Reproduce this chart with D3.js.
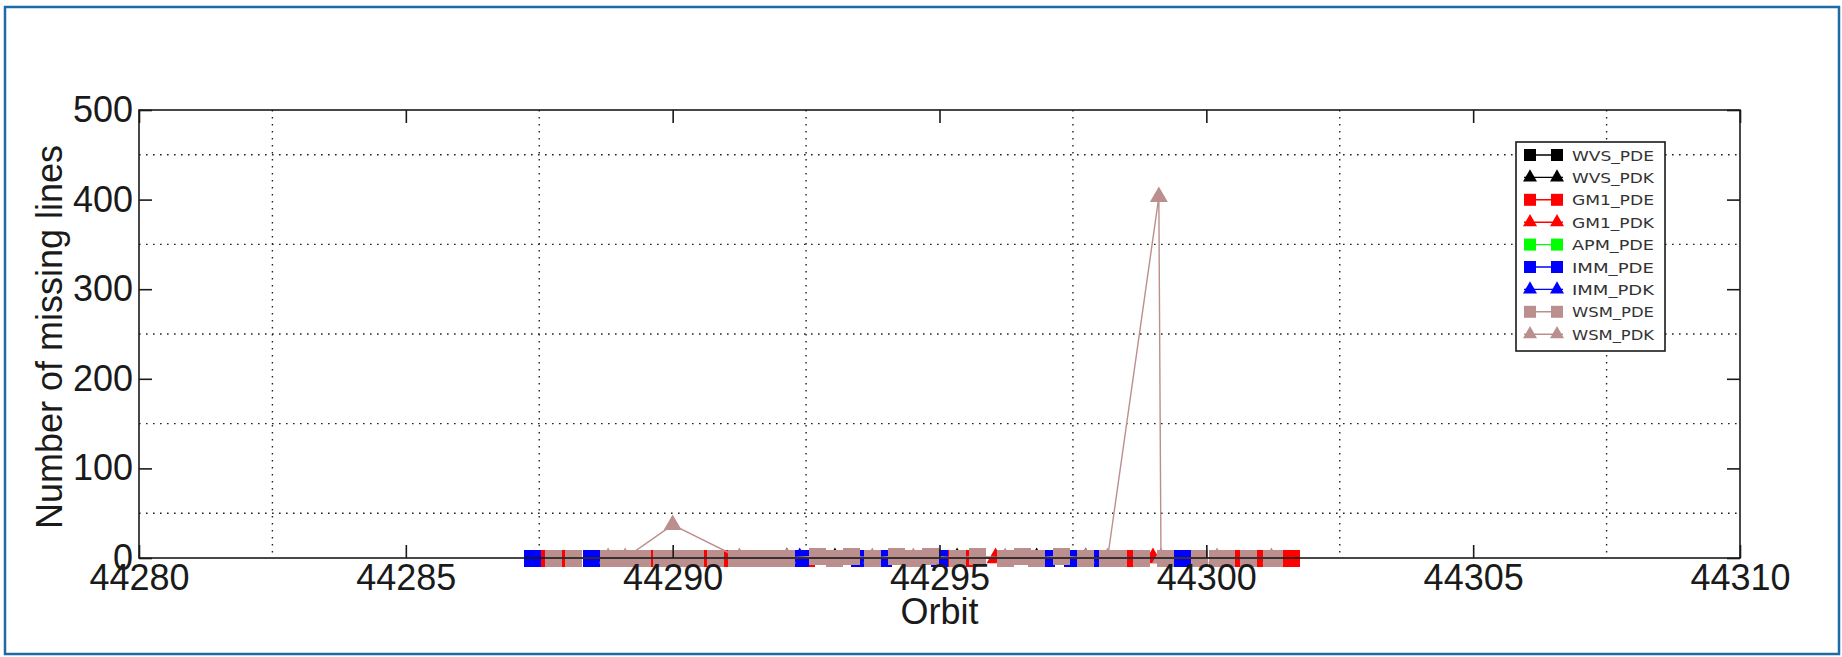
<!DOCTYPE html>
<html><head><meta charset="utf-8">
<script src="https://cdn.jsdelivr.net/npm/d3@7"></script>
<style>body{margin:0;background:#fff}svg{display:block}</style>
</head><body>
<svg id="chart" width="1842" height="657"></svg>
<script>
// ---------- data ----------
const xDomain = [44280, 44310];
const yDomain = [0, 500];
const xTicks = [44280, 44285, 44290, 44295, 44300, 44305, 44310];
const yTicks = [0, 100, 200, 300, 400, 500];
const xGrid = [44282.5, 44287.5, 44292.5, 44297.5, 44302.5, 44307.5];
const yGrid = [50, 150, 250, 350, 450];
const xLabel = "Orbit";
const yLabel = "Number of missing lines";

const seriesNames   = ["WVS_PDE", "WVS_PDK", "GM1_PDE", "GM1_PDK", "APM_PDE", "IMM_PDE", "IMM_PDK", "WSM_PDE", "WSM_PDK"];
const seriesColors  = ["#000000", "#000000", "#ff0000", "#ff0000", "#00ff00", "#0000ff", "#0000ff", "#bc8f8f", "#bc8f8f"];
const seriesMarkers = ["square", "triangle", "square", "triangle", "square", "square", "triangle", "square", "triangle"];

const wvsPdeOrbit = [44290.43, 44298.79];
const wvsPdeValue = [0, 0];
const wvsPdkOrbit = [44292.14, 44293.04, 44295.33, 44296.82, 44297.74];
const wvsPdkValue = [0, 0, 0, 0, 0];
const gm1PdeOrbit = [44287.49, 44287.95, 44289.61, 44290.62, 44290.99, 44292.50, 44293.58, 44295.25, 44295.55, 44298.57, 44300.58, 44301.00, 44301.59];
const gm1PdeValue = [0, 0, 0, 0, 0, 0, 0, 0, 0, 0, 0, 0, 0];
const gm1PdkOrbit = [44296.05, 44299.00];
const gm1PdkValue = [0, 0];
const apmPdeOrbit = [44289.43, 44300.20];
const apmPdeValue = [0, 0];
const immPdeOrbit = [44287.37, 44288.47, 44292.40, 44293.50, 44293.95, 44295.00, 44297.00, 44297.50, 44297.97, 44299.55];
const immPdeValue = [0, 0, 0, 0, 0, 0, 0, 0, 0, 0];
const immPdkOrbit = [44292.38, 44294.98];
const immPdkValue = [0, 0];
const wsmPdeOrbit = [44287.77, 44288.14, 44288.79, 44289.11, 44289.43, 44289.79, 44290.11, 44290.43, 44290.81, 44291.19,
                     44291.51, 44291.82, 44292.14, 44292.72, 44293.04, 44293.36, 44293.74, 44294.19, 44294.51, 44294.83,
                     44295.33, 44295.72, 44296.23, 44296.55, 44296.82, 44297.29, 44297.74, 44298.15, 44298.35, 44298.79,
                     44299.24, 44299.88, 44300.20, 44300.38, 44300.79, 44301.22, 44301.28];
const wsmPdeValue = [0, 0, 0, 0, 0, 0, 0, 0, 0, 0,
                     0, 0, 0, 2, 0, 2, 0, 2, 0, 2,
                     0, 2, 0, 2, 0, 2, 0, 0, 0, 0,
                     0, 0, 0, 0, 0, 0, 0];
const wsmPdkOrbit = [44288.79, 44289.11, 44290.00, 44291.25, 44292.14, 44293.74, 44294.51, 44296.23, 44297.74, 44298.15, 44299.11, 44299.15, 44300.20, 44301.22];
const wsmPdkValue = [0, 0, 37, 0, 0, 0, 0, 0, 0, 0, 403, 0, 0, 0];

const seriesOrbits = [wvsPdeOrbit, wvsPdkOrbit, gm1PdeOrbit, gm1PdkOrbit, apmPdeOrbit, immPdeOrbit, immPdkOrbit, wsmPdeOrbit, wsmPdkOrbit];
const seriesValues = [wvsPdeValue, wvsPdkValue, gm1PdeValue, gm1PdkValue, apmPdeValue, immPdeValue, immPdkValue, wsmPdeValue, wsmPdkValue];

// ---------- layout ----------
const L = 139, R = 1740, T = 110, B = 558;
const FONT = "'Liberation Sans', Arial, sans-serif";
const svg = d3.select("#chart");

svg.append("rect").attr("x", 5).attr("y", 7).attr("width", 1834).attr("height", 647)
  .attr("fill", "#fff").attr("stroke", "#1c6aa6").attr("stroke-width", 2.5);

const x = d3.scaleLinear().domain(xDomain).range([L, R]);
const y = d3.scaleLinear().domain(yDomain).range([B, T]);

// grid
const grid = svg.append("g").attr("stroke", "#222").attr("stroke-width", 1.4)
  .attr("stroke-dasharray", "1.6,5.4").attr("fill", "none");
grid.selectAll("line.v").data(xGrid).join("line").attr("class", "v")
  .attr("x1", d => x(d)).attr("x2", d => x(d)).attr("y1", T).attr("y2", B);
grid.selectAll("line.h").data(yGrid).join("line").attr("class", "h")
  .attr("x1", L).attr("x2", R).attr("y1", d => y(d)).attr("y2", d => y(d));

// data
const sqSize = 17 * 17;
const triSize = Math.sqrt(3) / 4 * 18 * 18;
const data = svg.append("g");
seriesNames.forEach((name, i) => {
  const pts = seriesOrbits[i].map((o, k) => [o, seriesValues[i][k]]);
  const g = data.append("g");
  g.append("path").datum(pts)
    .attr("fill", "none").attr("stroke", seriesColors[i]).attr("stroke-width", 1.4)
    .attr("d", d3.line().x(d => x(d[0])).y(d => y(d[1])));
  const sym = seriesMarkers[i] === "square" ? d3.symbol(d3.symbolSquare, sqSize) : d3.symbol(d3.symbolTriangle, triSize);
  g.selectAll("path.m").data(pts).join("path").attr("class", "m")
    .attr("transform", d => `translate(${x(d[0])},${y(d[1])})`)
    .attr("d", sym)
    .attr("fill", seriesColors[i])
    .attr("shape-rendering", seriesMarkers[i] === "square" ? "crispEdges" : null);
});

// axes box and ticks
svg.append("rect").attr("x", L).attr("y", T).attr("width", R - L).attr("height", B - T)
  .attr("fill", "none").attr("stroke", "#1a1a1a").attr("stroke-width", 1.6);

const tick = 13;
const ax = svg.append("g").attr("transform", `translate(0,${B})`)
  .call(d3.axisBottom(x).tickValues(xTicks).tickFormat(d3.format("d")).tickSizeInner(-tick).tickSizeOuter(0).tickPadding(6));
const ay = svg.append("g").attr("transform", `translate(${L},0)`)
  .call(d3.axisLeft(y).tickValues(yTicks).tickFormat(d3.format("d")).tickSizeInner(-tick).tickSizeOuter(0).tickPadding(6));
const at = svg.append("g").attr("transform", `translate(0,${T})`)
  .call(d3.axisTop(x).tickValues(xTicks).tickFormat("").tickSizeInner(-tick).tickSizeOuter(0));
const ar = svg.append("g").attr("transform", `translate(${R},0)`)
  .call(d3.axisRight(y).tickValues(yTicks).tickFormat("").tickSizeInner(-tick).tickSizeOuter(0));
[ax, ay, at, ar].forEach(a => {
  a.select(".domain").remove();
  a.selectAll(".tick line").attr("stroke", "#1a1a1a").attr("stroke-width", 1.6);
  a.selectAll(".tick text").attr("fill", "#1a1a1a").style("font-family", FONT).style("font-size", "36px");
});

svg.append("text").attr("x", (L + R) / 2).attr("y", 624).attr("text-anchor", "middle")
  .style("font-family", FONT).style("font-size", "36px").attr("fill", "#1a1a1a").text(xLabel);
svg.append("text").attr("transform", `translate(62,${(T + B) / 2 + 3}) rotate(-90)`).attr("text-anchor", "middle")
  .style("font-family", FONT).style("font-size", "36px").attr("fill", "#1a1a1a").text(yLabel);

// legend
const lg = svg.append("g");
lg.append("rect").attr("x", 1516).attr("y", 142).attr("width", 149).attr("height", 209)
  .attr("fill", "#fff").attr("stroke", "#1a1a1a").attr("stroke-width", 1.6);
seriesNames.forEach((name, i) => {
  const cy = 155 + i * 22.4;
  const g = lg.append("g");
  g.append("line").attr("x1", 1524).attr("x2", 1563).attr("y1", cy).attr("y2", cy)
    .attr("stroke", seriesColors[i]).attr("stroke-width", 1.4);
  const sym = seriesMarkers[i] === "square" ? d3.symbol(d3.symbolSquare, 12 * 12) : d3.symbol(d3.symbolTriangle, Math.sqrt(3) / 4 * 14 * 14);
  [1530, 1557].forEach(mx => g.append("path").attr("transform", `translate(${mx},${cy})`).attr("d", sym).attr("fill", seriesColors[i]));
  g.append("text").attr("x", 1572).attr("y", cy + 5.5)
    .attr("textLength", 82).attr("lengthAdjust", "spacingAndGlyphs")
    .style("font-family", "'DejaVu Sans', Verdana, sans-serif").style("font-size", "14px").attr("fill", "#333")
    .text(name);
});
</script>
</body></html>
